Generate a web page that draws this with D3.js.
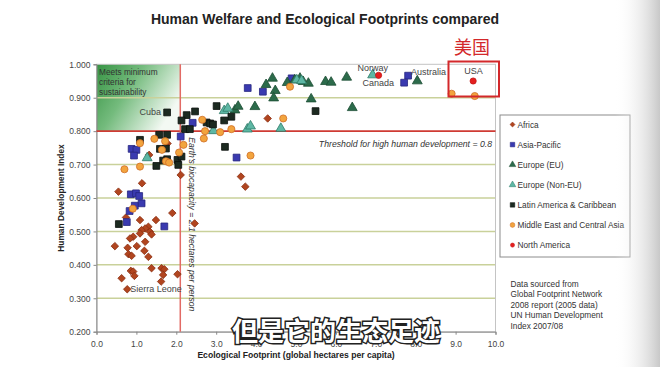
<!DOCTYPE html>
<html><head><meta charset="utf-8">
<script src="https://cdn.jsdelivr.net/npm/d3@7"></script>
<style>body{margin:0;background:#fff}svg{display:block}</style>
</head><body>
<script>
const title = "Human Welfare and Ecological Footprints compared";
const xTicks = [0,1,2,3,4,5,6,7,8,9,10];
const yTicks = [0.2,0.3,0.4,0.5,0.6,0.7,0.8,0.9,1.0];
const regions = ["Africa","Asia-Pacific","Europe (EU)","Europe (Non-EU)","Latin America & Caribbean","Middle East and Central Asia","North America"];

const africa = [[0.55,0.619],[1.90,0.555],[1.49,0.534],[0.74,0.542],[1.09,0.534],[1.30,0.514],[1.22,0.509],[1.13,0.504],[1.09,0.494],[1.34,0.499],[1.38,0.491],[0.92,0.484],[0.84,0.479],[1.22,0.469],[0.46,0.456],[0.78,0.451],[1.01,0.456],[1.20,0.442],[0.80,0.432],[0.88,0.427],[1.30,0.424],[1.38,0.390],[1.63,0.390],[1.70,0.387],[0.86,0.382],[0.92,0.380],[2.03,0.372],[1.67,0.370],[0.95,0.367],[0.63,0.360],[1.62,0.350],[0.77,0.327],[2.46,0.524],[1.14,0.644],[2.11,0.669],[3.62,0.664],[3.73,0.634],[4.29,0.838],[1.78,0.763],[1.32,0.729]];
const asiaPacific = [[0.86,0.611],[0.99,0.614],[1.07,0.606],[1.13,0.584],[0.96,0.577],[0.83,0.561],[0.76,0.528],[1.70,0.515],[0.88,0.747],[1.00,0.744],[0.94,0.727],[2.11,0.784],[2.41,0.825],[3.51,0.721],[3.79,0.929],[4.17,0.918],[4.89,0.958],[7.81,0.966],[7.71,0.945]];
const europeEU = [[4.41,0.958],[4.25,0.939],[4.48,0.921],[4.44,0.899],[4.78,0.945],[3.97,0.873],[3.47,0.863],[3.55,0.874],[4.97,0.953],[5.10,0.958],[5.18,0.948],[5.31,0.943],[5.74,0.948],[5.88,0.946],[6.27,0.961],[8.04,0.950],[5.38,0.896],[6.41,0.870]];
const europeNonEU = [[3.20,0.861],[3.29,0.868],[2.93,0.801],[3.78,0.806],[3.86,0.815],[4.62,0.808],[5.02,0.953],[5.14,0.951],[6.92,0.968],[1.27,0.720]];
const latinAmerica = [[1.77,0.856],[2.26,0.848],[2.47,0.859],[2.13,0.832],[2.22,0.806],[2.34,0.806],[1.57,0.789],[1.77,0.789],[1.09,0.774],[1.59,0.747],[1.74,0.748],[1.77,0.716],[1.67,0.712],[2.03,0.714],[2.13,0.724],[2.05,0.699],[1.50,0.696],[3.01,0.875],[3.20,0.832],[3.38,0.843],[2.76,0.826],[2.85,0.823],[2.92,0.820],[3.22,0.753],[5.49,0.860],[0.56,0.522]];
const middleEast = [[2.65,0.834],[2.72,0.800],[3.10,0.797],[3.38,0.806],[2.69,0.778],[2.18,0.759],[2.07,0.736],[1.45,0.777],[1.72,0.770],[1.09,0.764],[1.64,0.744],[1.74,0.710],[1.82,0.706],[1.09,0.694],[0.70,0.686],[3.86,0.727],[4.68,0.838],[4.85,0.933],[8.90,0.912],[0.91,0.568],[9.48,0.905]];
const northAmerica = [[7.07,0.967],[9.44,0.950]];
const labels = [["Cuba",1.77,0.856],["Norway",6.92,0.968],["Canada",7.07,0.967],["Australia",7.81,0.966],["USA",9.44,0.950],["Sierra Leone",0.77,0.327]];
const sources = ["Data sourced from","Global Footprint Network","2008 report (2005 data)","UN Human Development","Index 2007/08"];
const hdiThreshold = 0.8, biocapacity = 2.1;

const W = 660, H = 367;
const svg = d3.select("body").append("svg").attr("width", W).attr("height", H);
const F = "'Liberation Sans', Arial, sans-serif";
const x = d3.scaleLinear().domain([0,10]).range([96.5,495.5]);
const y = d3.scaleLinear().domain([0.2,1.0]).range([331.7,64.3]);

const defs = svg.append("defs");
const vg = defs.append("linearGradient").attr("id","vig").attr("x1",0).attr("x2",1);
vg.append("stop").attr("offset",0).attr("stop-color","#fff").attr("stop-opacity",0);
vg.append("stop").attr("offset",1).attr("stop-color","#c8c8c8").attr("stop-opacity",1);
const gg = defs.append("linearGradient").attr("id","grn").attr("x1",0).attr("y1",0).attr("x2",1).attr("y2",0.5);
gg.append("stop").attr("offset",0).attr("stop-color","#369343");
gg.append("stop").attr("offset",0.45).attr("stop-color","#74bb7d");
gg.append("stop").attr("offset",1).attr("stop-color","#f3f9f3");

svg.append("text").attr("x",325).attr("y",24).attr("text-anchor","middle")
  .attr("font-family",F).attr("font-weight","bold").attr("font-size",14).attr("fill","#222").text(title);

svg.append("rect").attr("x",x(0)).attr("y",y(1.0)).attr("width",x(biocapacity)-x(0)).attr("height",y(hdiThreshold)-y(1.0)).attr("fill","url(#grn)");

svg.append("g").selectAll("line").data(yTicks.filter(d=>d>0.25&&d<0.95&&d!==0.8)).join("line")
  .attr("x1",x(0)).attr("x2",x(10)).attr("y1",d=>y(d)).attr("y2",d=>y(d))
  .attr("stroke","#c9d19a").attr("stroke-width",1.5);
svg.append("rect").attr("x",x(0)).attr("y",y(1)).attr("width",x(10)-x(0)).attr("height",y(0.2)-y(1))
  .attr("fill","none").attr("stroke","#c4c4c4").attr("stroke-width",1);

const xa = svg.append("g").attr("transform",`translate(0,${y(0.2)})`)
  .call(d3.axisBottom(x).tickValues(xTicks).tickSize(3).tickFormat(d3.format(".1f")));
const ya = svg.append("g").attr("transform",`translate(${x(0)},0)`)
  .call(d3.axisLeft(y).tickValues(yTicks).tickSize(3).tickFormat(d3.format(".3f")));
[xa,ya].forEach(a=>{a.selectAll("path,line").attr("stroke","#888");
  a.selectAll("text").attr("font-family",F).attr("font-size",8.5).attr("fill","#444");});
xa.selectAll("text").attr("dy","1.1em");

svg.append("line").attr("x1",x(0)).attr("x2",x(10)).attr("y1",y(hdiThreshold)).attr("y2",y(hdiThreshold))
  .attr("stroke","#cf3b34").attr("stroke-width",1.6);
svg.append("line").attr("x1",x(biocapacity)).attr("x2",x(biocapacity)).attr("y1",y(1)).attr("y2",y(0.2))
  .attr("stroke","#e26a64").attr("stroke-width",1.5);

svg.append("text").attr("x",492).attr("y",y(hdiThreshold)+15.5).attr("text-anchor","end")
  .attr("font-family",F).attr("font-style","italic").attr("font-size",8.7).attr("fill","#333")
  .text("Threshold for high human development = 0.8");
svg.append("text").attr("transform",`translate(${x(biocapacity)+9},${y(0.8)+6}) rotate(90)`)
  .attr("font-family",F).attr("font-style","italic").attr("font-size",8.7).attr("fill","#333")
  .text("Earth's biocapacity = 2.1 hectares per person");

const mt = svg.append("text").attr("font-family",F).attr("font-size",8.3).attr("fill","#333");
["Meets minimum","criteria for","sustainability"].forEach((t,i)=>
  mt.append("tspan").attr("x",99).attr("y",75+i*10).text(t));

const sym = (type,size)=>d3.symbol().type(type).size(size)();
const series = [
  {name:regions[0],data:africa,shape:d3.symbolDiamond2,size:36,fill:"#b1451f",stroke:"#8a2e12"},
  {name:regions[1],data:asiaPacific,shape:d3.symbolSquare,size:46,fill:"#3a3ab0",stroke:"#26267f"},
  {name:regions[2],data:europeEU,shape:d3.symbolTriangle,size:42,fill:"#2c6b4b",stroke:"#1c4c33"},
  {name:regions[3],data:europeNonEU,shape:d3.symbolTriangle,size:42,fill:"#5db7a4",stroke:"#2e7b68"},
  {name:regions[4],data:latinAmerica,shape:d3.symbolSquare,size:46,fill:"#1c2a21",stroke:"#0b100c"},
  {name:regions[5],data:middleEast,shape:d3.symbolCircle,size:40,fill:"#f2a43e",stroke:"#cf6d26"},
  {name:regions[6],data:northAmerica,shape:d3.symbolCircle,size:30,fill:"#e41f1f",stroke:"#c41515"}
];
series.forEach(s=>{
  svg.append("g").selectAll("path").data(s.data).join("path")
    .attr("d",sym(s.shape,s.size)).attr("transform",d=>`translate(${x(d[0])},${y(d[1])})`)
    .attr("fill",s.fill).attr("stroke",s.stroke).attr("stroke-width",0.8);
});

const lblPos = {"Cuba":[-6,3,"end"],"Norway":[-15,-4,"start"],"Canada":[-16,11,"start"],"Australia":[3,-1,"start"],"USA":[-9,-7,"start"],"Sierra Leone":[3,3,"start"]};
labels.forEach(([t,a,b])=>{const p=lblPos[t];
  svg.append("text").attr("x",x(a)+p[0]).attr("y",y(b)+p[1]).attr("text-anchor",p[2])
    .attr("font-family",F).attr("font-size",9).attr("fill","#444").text(t);});

svg.append("text").attr("transform",`translate(64,${(y(1)+y(0.2))/2}) rotate(-90)`).attr("text-anchor","middle")
  .attr("font-family",F).attr("font-weight","bold").attr("font-size",8.4).attr("fill","#222").text("Human Development Index");
svg.append("text").attr("x",(x(0)+x(10))/2).attr("y",358).attr("text-anchor","middle")
  .attr("font-family",F).attr("font-weight","bold").attr("font-size",8.6).attr("fill","#222").text("Ecological Footprint (global hectares per capita)");

const lg = svg.append("g");
lg.append("rect").attr("x",500).attr("y",115).attr("width",130).attr("height",142).attr("fill","#fff").attr("stroke","#8c8c8c");
series.forEach((s,i)=>{
  const yy = 124.5+i*20.1;
  lg.append("path").attr("d",sym(s.shape,s.size*0.45)).attr("transform",`translate(512.5,${yy})`)
    .attr("fill",s.fill).attr("stroke",s.stroke).attr("stroke-width",0.5);
  lg.append("text").attr("x",517.5).attr("y",yy+3).attr("font-family",F).attr("font-size",8.3).attr("fill","#333").text(s.name);
});

sources.forEach((t,i)=>svg.append("text").attr("x",510.5).attr("y",287+i*10.4)
  .attr("font-family",F).attr("font-size",8.3).attr("fill","#333").text(t));

svg.append("rect").attr("x",448.5).attr("y",61.5).attr("width",50.5).attr("height",35)
  .attr("fill","none").attr("stroke","#d3282b").attr("stroke-width",2);
svg.append("text").attr("x",472).attr("y",54).attr("text-anchor","middle")
  .attr("font-family","'Noto Sans CJK SC'").attr("font-size",18).attr("fill","#d3282b").text("美国");

svg.append("rect").attr("x",615).attr("y",0).attr("width",45).attr("height",H).attr("fill","url(#vig)");

svg.append("text").attr("x",336).attr("y",341).attr("text-anchor","middle")
  .attr("font-family","'Noto Sans CJK SC'").attr("font-weight","bold").attr("font-size",26)
  .attr("fill","#fff").attr("stroke","#222").attr("stroke-width",3).attr("paint-order","stroke")
  .text("但是它的生态足迹");
</script>
</body></html>
